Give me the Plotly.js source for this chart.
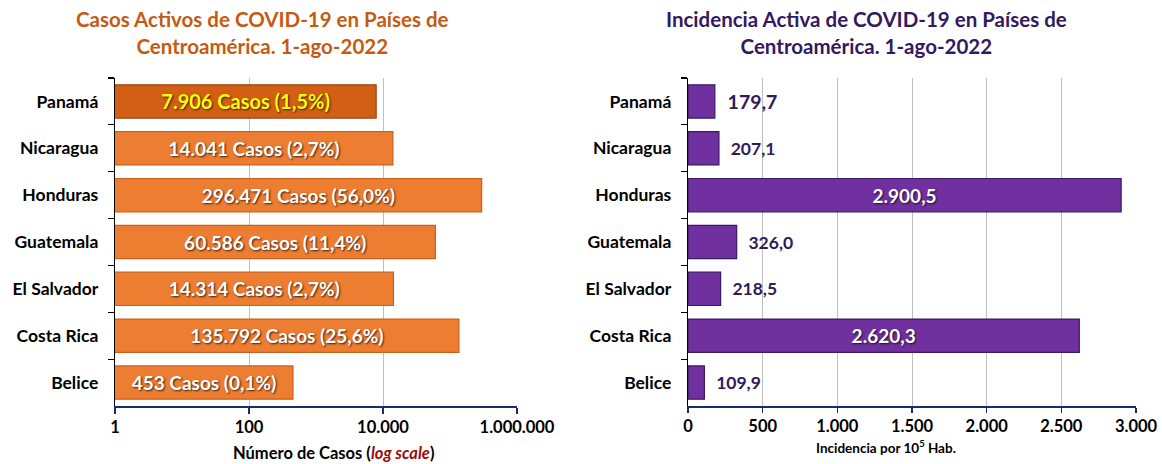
<!DOCTYPE html>
<html>
<head>
<meta charset="utf-8">
<script src="https://cdn.plot.ly/plotly-3.0.1.min.js"></script>
<style>
html,body{margin:0;padding:0;background:#fff;}
#chart{width:1162px;height:464px;}
</style>
</head>
<body>
<div id="chart"></div>
<script>
// Data (top to bottom as drawn)
const countries = ["Panamá", "Nicaragua", "Honduras", "Guatemala", "El Salvador", "Costa Rica", "Belice"];
const activeCases = [7906, 14041, 296471, 60586, 14314, 135792, 453];
const casePercent = [1.5, 2.7, 56.0, 11.4, 2.7, 25.6, 0.1];
const incidence = [179.7, 207.1, 2900.5, 326.0, 218.5, 2620.3, 109.9];
const logTickVals = [1, 100, 10000, 1000000];
const logTickText = ["1", "100", "10.000", "1.000.000"];

function fmtNum(v, dec) {
  const parts = v.toFixed(dec).split(".");
  const intPart = parts[0].replace(/\B(?=(\d{3})+(?!\d))/g, ".");
  return parts.length > 1 ? intPart + "," + parts[1] : intPart;
}

const FONT = "Lato, 'Open Sans', sans-serif";
const shadow = "1px 1px 2px rgba(0,0,0,0.75)";

const caseText = activeCases.map((v, i) => fmtNum(v, 0) + " Casos (" + fmtNum(casePercent[i], 1) + "%)");
const caseColors = countries.map((c, i) => i === 0 ? "#D35F14" : "#ED7D31");
const caseLine = countries.map((c, i) => i === 0 ? "#9E4510" : "#C9611C");
const caseTextColors = countries.map((c, i) => i === 0 ? "#FFFF00" : "#FFFFFF");
const caseTextSizes = countries.map((c, i) => i === 0 ? 20 : 19);

const incInside = incidence.map(v => v > 1000);
const incText = incidence.map((v, i) => (incInside[i] ? "" : "\u2002") + fmtNum(v, 1));
const incPos = incInside.map(b => b ? "inside" : "outside");
const incTextColors = incInside.map(b => b ? "#FFFFFF" : "#2E1B5C");
const incTextSizes = countries.map((c, i) => incInside[i] ? 19 : (i === 0 ? 19.5 : 17.5));

const traces = [
  {
    type: "bar", orientation: "h",
    x: activeCases, y: countries,
    xaxis: "x", yaxis: "y",
    marker: {color: caseColors, line: {color: caseLine, width: 1.2}},
    width: 0.71,
    text: caseText,
    textposition: "inside",
    insidetextanchor: "middle",
    constraintext: "none",
    textfont: {family: FONT, size: caseTextSizes, color: caseTextColors, weight: 700, shadow: shadow},
    cliponaxis: false,
    hoverinfo: "x+y"
  },
  {
    type: "bar", orientation: "h",
    x: incidence, y: countries,
    xaxis: "x2", yaxis: "y2",
    marker: {color: "#7030A0", line: {color: "#3A1A62", width: 1.2}},
    width: 0.71,
    text: incText,
    textposition: incPos,
    insidetextanchor: "middle",
    constraintext: "none",
    textfont: {family: FONT, size: incTextSizes, color: incTextColors, weight: 700},
    insidetextfont: {family: FONT, size: incTextSizes, color: "#FFFFFF", weight: 700, shadow: shadow},
    outsidetextfont: {family: FONT, size: incTextSizes, color: "#2E1B5C", weight: 700},
    cliponaxis: false,
    hoverinfo: "x+y"
  }
];

const yDomain = [1 - 406/464, 1 - 78/464];

function catAxis(anchor) {
  return {
    type: "category",
    domain: yDomain,
    autorange: "reversed",
    tickson: "boundaries",
    ticks: "outside", ticklen: 6, tickcolor: "#000000", tickwidth: 1.2,
    showline: true, linecolor: "#000000", linewidth: 1.2,
    showgrid: false,
    tickfont: {family: FONT, size: 17.5, color: "#000000", weight: 700},
    ticklabelstandoff: 12,
    automargin: false,
    anchor: anchor,
    fixedrange: true
  };
}

const layout = {
  width: 1162, height: 464,
  margin: {l: 0, r: 0, t: 0, b: 0},
  paper_bgcolor: "#FFFFFF",
  plot_bgcolor: "#FFFFFF",
  showlegend: false,
  separators: ",.",
  font: {family: FONT, color: "#000000"},
  xaxis: {
    type: "log",
    domain: [115/1162, 517/1162],
    range: [0, 6],
    tickvals: logTickVals,
    ticktext: logTickText,
    showgrid: true, gridcolor: "#BFBFBF", gridwidth: 1,
    showline: true, linecolor: "#1F2A6B", linewidth: 1.5,
    ticks: "outside", ticklen: 6, tickcolor: "#1F2A6B", tickwidth: 1.5,
    tickfont: {family: FONT, size: 16.5, color: "#000000", weight: 700},
    ticklabeloverflow: "allow",
    zeroline: false,
    automargin: false,
    anchor: "y",
    fixedrange: true
  },
  yaxis: catAxis("x"),
  xaxis2: {
    domain: [688/1162, 1136/1162],
    range: [0, 3000],
    dtick: 500, tick0: 0,
    separatethousands: true,
    showgrid: true, gridcolor: "#BFBFBF", gridwidth: 1,
    showline: true, linecolor: "#1F2A6B", linewidth: 1.5,
    ticks: "outside", ticklen: 5, tickcolor: "#1F2A6B", tickwidth: 1.5,
    tickfont: {family: FONT, size: 16.5, color: "#000000", weight: 700},
    ticklabeloverflow: "allow",
    zeroline: false,
    automargin: false,
    anchor: "y2",
    fixedrange: true
  },
  yaxis2: catAxis("x2"),
  annotations: [
    {text: "Casos Activos de COVID-19 en Países de<br>Centroamérica. 1-ago-2022",
     x: 262/1162, y: 1 - 32/464, xref: "paper", yref: "paper",
     xanchor: "center", yanchor: "middle", showarrow: false, align: "center",
     font: {family: FONT, size: 20.5, color: "#C55A11", weight: 700}},
    {text: "Incidencia Activa de COVID-19 en Países de<br>Centroamérica. 1-ago-2022",
     x: 866/1162, y: 1 - 32/464, xref: "paper", yref: "paper",
     xanchor: "center", yanchor: "middle", showarrow: false, align: "center",
     font: {family: FONT, size: 20.5, color: "#33195F", weight: 700}},
    {text: "Número de Casos (<i><span style=\"color:#9C0A0A\">log scale</span></i>)",
     x: 333/1162, y: 1 - 453/464, xref: "paper", yref: "paper",
     xanchor: "center", yanchor: "middle", showarrow: false,
     font: {family: FONT, size: 16.5, color: "#000000", weight: 700}},
    {text: "Incidencia por 10<sup>5</sup> Hab.",
     x: 886/1162, y: 1 - 447/464, xref: "paper", yref: "paper",
     xanchor: "center", yanchor: "middle", showarrow: false,
     font: {family: FONT, size: 13.5, color: "#000000", weight: 700}}
  ]
};

Plotly.newPlot("chart", traces, layout, {displayModeBar: false, staticPlot: true});
</script>
</body>
</html>
